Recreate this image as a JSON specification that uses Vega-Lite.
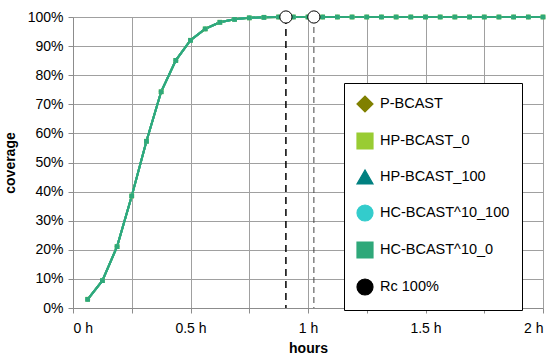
{
  "$schema": "https://vega.github.io/schema/vega-lite/v6.json",
  "width": 470,
  "height": 291,
  "autosize": {"type": "none"},
  "padding": {"left": 73, "top": 17, "right": 17, "bottom": 56},
  "background": "white",
  "config": {
    "view": {"stroke": null},
    "font": "Liberation Sans",
    "axis": {
      "labelFont": "Liberation Sans",
      "labelFontSize": 14,
      "labelColor": "#000000",
      "labelOverlap": false,
      "titleFont": "Liberation Sans",
      "titleFontSize": 14,
      "titleFontWeight": "bold",
      "titleColor": "#000000",
      "gridColor": "#a0a0a0",
      "gridWidth": 1,
      "domainColor": "#8c8c8c",
      "tickColor": "#8c8c8c",
      "tickSize": 5
    }
  },
  "datasets": {
    "coverage": [
      {"t": 0.0625, "P-BCAST": 0.030, "HP-BCAST_0": 0.030, "HP-BCAST_100": 0.030, "HC-BCAST^10_100": 0.030, "HC-BCAST^10_0": 0.030},
      {"t": 0.125, "P-BCAST": 0.094, "HP-BCAST_0": 0.094, "HP-BCAST_100": 0.094, "HC-BCAST^10_100": 0.094, "HC-BCAST^10_0": 0.094},
      {"t": 0.1875, "P-BCAST": 0.211, "HP-BCAST_0": 0.211, "HP-BCAST_100": 0.211, "HC-BCAST^10_100": 0.211, "HC-BCAST^10_0": 0.211},
      {"t": 0.25, "P-BCAST": 0.385, "HP-BCAST_0": 0.385, "HP-BCAST_100": 0.385, "HC-BCAST^10_100": 0.385, "HC-BCAST^10_0": 0.385},
      {"t": 0.3125, "P-BCAST": 0.573, "HP-BCAST_0": 0.573, "HP-BCAST_100": 0.573, "HC-BCAST^10_100": 0.573, "HC-BCAST^10_0": 0.573},
      {"t": 0.375, "P-BCAST": 0.743, "HP-BCAST_0": 0.743, "HP-BCAST_100": 0.743, "HC-BCAST^10_100": 0.743, "HC-BCAST^10_0": 0.743},
      {"t": 0.4375, "P-BCAST": 0.851, "HP-BCAST_0": 0.851, "HP-BCAST_100": 0.851, "HC-BCAST^10_100": 0.851, "HC-BCAST^10_0": 0.851},
      {"t": 0.5, "P-BCAST": 0.920, "HP-BCAST_0": 0.920, "HP-BCAST_100": 0.920, "HC-BCAST^10_100": 0.920, "HC-BCAST^10_0": 0.920},
      {"t": 0.5625, "P-BCAST": 0.959, "HP-BCAST_0": 0.959, "HP-BCAST_100": 0.959, "HC-BCAST^10_100": 0.959, "HC-BCAST^10_0": 0.959},
      {"t": 0.625, "P-BCAST": 0.982, "HP-BCAST_0": 0.982, "HP-BCAST_100": 0.982, "HC-BCAST^10_100": 0.982, "HC-BCAST^10_0": 0.982},
      {"t": 0.6875, "P-BCAST": 0.992, "HP-BCAST_0": 0.992, "HP-BCAST_100": 0.992, "HC-BCAST^10_100": 0.992, "HC-BCAST^10_0": 0.992},
      {"t": 0.75, "P-BCAST": 0.997, "HP-BCAST_0": 0.997, "HP-BCAST_100": 0.997, "HC-BCAST^10_100": 0.997, "HC-BCAST^10_0": 0.997},
      {"t": 0.8125, "P-BCAST": 0.999, "HP-BCAST_0": 0.999, "HP-BCAST_100": 0.999, "HC-BCAST^10_100": 0.999, "HC-BCAST^10_0": 0.999},
      {"t": 0.875, "P-BCAST": 1, "HP-BCAST_0": 1, "HP-BCAST_100": 1, "HC-BCAST^10_100": 1, "HC-BCAST^10_0": 1},
      {"t": 0.9375, "P-BCAST": 1, "HP-BCAST_0": 1, "HP-BCAST_100": 1, "HC-BCAST^10_100": 1, "HC-BCAST^10_0": 1},
      {"t": 1.0, "P-BCAST": 1, "HP-BCAST_0": 1, "HP-BCAST_100": 1, "HC-BCAST^10_100": 1, "HC-BCAST^10_0": 1},
      {"t": 1.0625, "P-BCAST": 1, "HP-BCAST_0": 1, "HP-BCAST_100": 1, "HC-BCAST^10_100": 1, "HC-BCAST^10_0": 1},
      {"t": 1.125, "P-BCAST": 1, "HP-BCAST_0": 1, "HP-BCAST_100": 1, "HC-BCAST^10_100": 1, "HC-BCAST^10_0": 1},
      {"t": 1.1875, "P-BCAST": 1, "HP-BCAST_0": 1, "HP-BCAST_100": 1, "HC-BCAST^10_100": 1, "HC-BCAST^10_0": 1},
      {"t": 1.25, "P-BCAST": 1, "HP-BCAST_0": 1, "HP-BCAST_100": 1, "HC-BCAST^10_100": 1, "HC-BCAST^10_0": 1},
      {"t": 1.3125, "P-BCAST": 1, "HP-BCAST_0": 1, "HP-BCAST_100": 1, "HC-BCAST^10_100": 1, "HC-BCAST^10_0": 1},
      {"t": 1.375, "P-BCAST": 1, "HP-BCAST_0": 1, "HP-BCAST_100": 1, "HC-BCAST^10_100": 1, "HC-BCAST^10_0": 1},
      {"t": 1.4375, "P-BCAST": 1, "HP-BCAST_0": 1, "HP-BCAST_100": 1, "HC-BCAST^10_100": 1, "HC-BCAST^10_0": 1},
      {"t": 1.5, "P-BCAST": 1, "HP-BCAST_0": 1, "HP-BCAST_100": 1, "HC-BCAST^10_100": 1, "HC-BCAST^10_0": 1},
      {"t": 1.5625, "P-BCAST": 1, "HP-BCAST_0": 1, "HP-BCAST_100": 1, "HC-BCAST^10_100": 1, "HC-BCAST^10_0": 1},
      {"t": 1.625, "P-BCAST": 1, "HP-BCAST_0": 1, "HP-BCAST_100": 1, "HC-BCAST^10_100": 1, "HC-BCAST^10_0": 1},
      {"t": 1.6875, "P-BCAST": 1, "HP-BCAST_0": 1, "HP-BCAST_100": 1, "HC-BCAST^10_100": 1, "HC-BCAST^10_0": 1},
      {"t": 1.75, "P-BCAST": 1, "HP-BCAST_0": 1, "HP-BCAST_100": 1, "HC-BCAST^10_100": 1, "HC-BCAST^10_0": 1},
      {"t": 1.8125, "P-BCAST": 1, "HP-BCAST_0": 1, "HP-BCAST_100": 1, "HC-BCAST^10_100": 1, "HC-BCAST^10_0": 1},
      {"t": 1.875, "P-BCAST": 1, "HP-BCAST_0": 1, "HP-BCAST_100": 1, "HC-BCAST^10_100": 1, "HC-BCAST^10_0": 1},
      {"t": 1.9375, "P-BCAST": 1, "HP-BCAST_0": 1, "HP-BCAST_100": 1, "HC-BCAST^10_100": 1, "HC-BCAST^10_0": 1},
      {"t": 2.0, "P-BCAST": 1, "HP-BCAST_0": 1, "HP-BCAST_100": 1, "HC-BCAST^10_100": 1, "HC-BCAST^10_0": 1}
    ],
    "rc": [
      {"t": 0.906, "cov": 1, "id": "a"},
      {"t": 1.025, "cov": 1, "id": "b"}
    ]
  },
  "encoding": {
    "x": {
      "field": "t",
      "type": "quantitative",
      "scale": {"domain": [0, 2], "nice": false},
      "axis": {
        "title": "hours",
        "values": [0, 0.25, 0.5, 0.75, 1, 1.25, 1.5, 1.75, 2],
        "labelExpr": "(datum.value * 2) % 1 === 0 ? datum.value + ' h' : ''",
        "labelPadding": 8,
        "titlePadding": 6,
        "grid": true
      }
    },
    "y": {
      "field": "cov",
      "type": "quantitative",
      "scale": {"domain": [0, 1], "nice": false},
      "axis": {
        "title": "coverage",
        "values": [0, 0.1, 0.2, 0.3, 0.4, 0.5, 0.6, 0.7, 0.8, 0.9, 1],
        "format": ".0%",
        "labelPadding": 5,
        "titlePadding": 10,
        "grid": true
      }
    }
  },
  "layer": [
    {
      "data": {"name": "coverage"},
      "transform": [
        {"fold": ["P-BCAST", "HP-BCAST_0", "HP-BCAST_100", "HC-BCAST^10_100", "HC-BCAST^10_0"], "as": ["series", "cov"]}
      ],
      "mark": {"type": "line", "strokeWidth": 2},
      "encoding": {
        "color": {
          "field": "series",
          "type": "nominal",
          "scale": {
            "domain": ["P-BCAST", "HP-BCAST_0", "HP-BCAST_100", "HC-BCAST^10_100", "HC-BCAST^10_0", "Rc 100%"],
            "range": ["#808000", "#99cc33", "#008080", "#33cccc", "#2fa87a", "#000000"]
          },
          "legend": {
            "title": null,
            "orient": "none",
            "legendX": 271,
            "legendY": 66,
            "padding": 12,
            "fillColor": "white",
            "strokeColor": "#000000",
            "labelFont": "Liberation Sans",
            "labelFontSize": 14.5,
            "labelColor": "#000000",
            "labelOffset": 6,
            "rowPadding": 15,
            "symbolSize": 256,
            "symbolStrokeWidth": 1.2,
            "labelLimit": 300,
            "encode": {
              "symbols": {
                "update": {
                  "shape": {"value": {"expr": "datum.value === 'Rc 100%' ? 'M0.6,0A0.6,0.6,0,1,1,-0.6,0A0.6,0.6,0,1,1,0.6,0Z' : datum.value === 'P-BCAST' ? 'M-1,0H1M0,-0.3L0.3,0L0,0.3L-0.3,0Z' : datum.value === 'HP-BCAST_0' ? 'M-1,0H1M-0.25,-0.25H0.25V0.25H-0.25Z' : datum.value === 'HP-BCAST_100' ? 'M-1,0H1M0,-0.3L0.3,0.22L-0.3,0.22Z' : datum.value === 'HC-BCAST^10_100' ? 'M-1,0H1M0.28,0A0.28,0.28,0,1,1,-0.28,0A0.28,0.28,0,1,1,0.28,0Z' : 'M-1,0H1M-0.25,-0.25L0.25,0.25M0.25,-0.25L-0.25,0.25M-0.2,-0.2H0.2V0.2H-0.2Z'"}},
                  "fill": {"value": {"expr": "datum.value === 'Rc 100%' ? '#ffffff' : scale('color', datum.value)"}},
                  "stroke": {"value": {"expr": "datum.value === 'Rc 100%' ? '#000000' : scale('color', datum.value)"}},
                  "opacity": {"value": 1},
                  "fillOpacity": {"value": 1}
                }
              }
            }
          }
        }
      }
    },
    {
      "data": {"name": "coverage"},
      "transform": [
        {"fold": ["P-BCAST", "HP-BCAST_0", "HP-BCAST_100", "HC-BCAST^10_100", "HC-BCAST^10_0"], "as": ["series", "cov"]}
      ],
      "mark": {"type": "point", "filled": true, "size": 22, "opacity": 1},
      "encoding": {
        "color": {"field": "series", "type": "nominal"},
        "shape": {
          "field": "series",
          "type": "nominal",
          "scale": {
            "domain": ["P-BCAST", "HP-BCAST_0", "HP-BCAST_100", "HC-BCAST^10_100", "HC-BCAST^10_0", "Rc 100%"],
            "range": ["diamond", "square", "triangle-up", "circle", "square", "circle"]
          },
          "legend": null
        }
      }
    },
    {
      "data": {"name": "rc"},
      "transform": [{"filter": "datum.id === 'a'"}],
      "mark": {"type": "rule", "color": "#000000", "strokeWidth": 1.5, "strokeDash": [7, 5]},
      "encoding": {
        "y2": {"datum": 0}
      }
    },
    {
      "data": {"name": "rc"},
      "transform": [{"filter": "datum.id === 'b'"}],
      "mark": {"type": "rule", "color": "#444444", "strokeWidth": 1, "strokeDash": [6, 4]},
      "encoding": {
        "y2": {"datum": 0}
      }
    },
    {
      "data": {"name": "rc"},
      "mark": {"type": "point", "shape": "circle", "filled": true, "fill": "#ffffff", "stroke": "#000000", "strokeWidth": 1, "size": 150, "opacity": 1},
      "encoding": {}
    }
  ]
}
